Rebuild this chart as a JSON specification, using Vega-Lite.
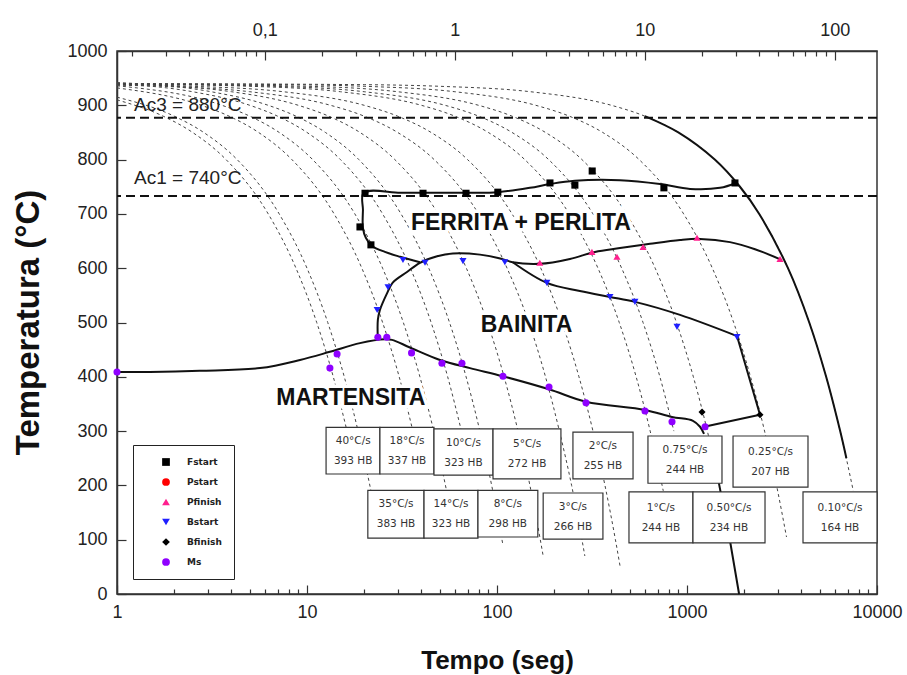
{
  "$schema": "https://vega.github.io/schema/vega-lite/v6.json",
  "width": 760,
  "height": 543,
  "autosize": "none",
  "padding": {"left": 117, "top": 51, "right": 30, "bottom": 81},
  "background": "white",
  "config": {
    "view": {"stroke": "#333", "strokeWidth": 1.5},
    "font": "Liberation Sans",
    "axis": {"grid": false, "domainColor": "#333", "domainWidth": 1.5, "tickColor": "#333", "tickWidth": 1.2, "labelColor": "#222", "labelFont": "Liberation Sans", "labelFontSize": 18, "titleColor": "#111", "titleFont": "Liberation Sans", "titleFontWeight": "bold"}
  },
  "datasets": {
    "cool": [
      {"r": "40", "t": 1, "T": 910}, {"r": "40", "t": 1.75, "T": 880}, {"r": "40", "t": 2.5, "T": 850}, {"r": "40", "t": 3.75, "T": 800}, {"r": "40", "t": 6.25, "T": 700}, {"r": "40", "t": 8.75, "T": 600}, {"r": "40", "t": 11.25, "T": 500}, {"r": "40", "t": 13.75, "T": 400}, {"r": "40", "t": 16.25, "T": 300},
      {"r": "35", "t": 1, "T": 915}, {"r": "35", "t": 2.0, "T": 880}, {"r": "35", "t": 2.86, "T": 850}, {"r": "35", "t": 4.29, "T": 800}, {"r": "35", "t": 7.14, "T": 700}, {"r": "35", "t": 10, "T": 600}, {"r": "35", "t": 12.86, "T": 500}, {"r": "35", "t": 15.71, "T": 400}, {"r": "35", "t": 18.57, "T": 300}, {"r": "35", "t": 21.86, "T": 185},
      {"r": "18", "t": 1, "T": 932}, {"r": "18", "t": 2.78, "T": 900}, {"r": "18", "t": 3.89, "T": 880}, {"r": "18", "t": 5.56, "T": 850}, {"r": "18", "t": 8.33, "T": 800}, {"r": "18", "t": 13.89, "T": 700}, {"r": "18", "t": 19.44, "T": 600}, {"r": "18", "t": 25, "T": 500}, {"r": "18", "t": 30.56, "T": 400}, {"r": "18", "t": 36.1, "T": 300},
      {"r": "14", "t": 1, "T": 936}, {"r": "14", "t": 3.57, "T": 900}, {"r": "14", "t": 5, "T": 880}, {"r": "14", "t": 7.14, "T": 850}, {"r": "14", "t": 10.71, "T": 800}, {"r": "14", "t": 17.86, "T": 700}, {"r": "14", "t": 25, "T": 600}, {"r": "14", "t": 32.14, "T": 500}, {"r": "14", "t": 39.29, "T": 400}, {"r": "14", "t": 46.43, "T": 300}, {"r": "14", "t": 54.29, "T": 190},
      {"r": "10", "t": 1, "T": 940}, {"r": "10", "t": 2.5, "T": 925}, {"r": "10", "t": 5, "T": 900}, {"r": "10", "t": 7, "T": 880}, {"r": "10", "t": 10, "T": 850}, {"r": "10", "t": 15, "T": 800}, {"r": "10", "t": 25, "T": 700}, {"r": "10", "t": 35, "T": 600}, {"r": "10", "t": 45, "T": 500}, {"r": "10", "t": 55, "T": 400}, {"r": "10", "t": 65, "T": 300},
      {"r": "8", "t": 1, "T": 942}, {"r": "8", "t": 3.13, "T": 925}, {"r": "8", "t": 6.25, "T": 900}, {"r": "8", "t": 8.75, "T": 880}, {"r": "8", "t": 12.5, "T": 850}, {"r": "8", "t": 18.75, "T": 800}, {"r": "8", "t": 31.25, "T": 700}, {"r": "8", "t": 43.75, "T": 600}, {"r": "8", "t": 56.25, "T": 500}, {"r": "8", "t": 68.75, "T": 400}, {"r": "8", "t": 81.25, "T": 300}, {"r": "8", "t": 93.75, "T": 200}, {"r": "8", "t": 107.5, "T": 90},
      {"r": "5", "t": 1, "T": 940}, {"r": "5", "t": 4, "T": 925}, {"r": "5", "t": 9, "T": 900}, {"r": "5", "t": 13, "T": 880}, {"r": "5", "t": 19, "T": 850}, {"r": "5", "t": 29, "T": 800}, {"r": "5", "t": 49, "T": 700}, {"r": "5", "t": 69, "T": 600}, {"r": "5", "t": 89, "T": 500}, {"r": "5", "t": 109, "T": 400}, {"r": "5", "t": 129, "T": 300}, {"r": "5", "t": 149, "T": 200}, {"r": "5", "t": 169, "T": 100}, {"r": "5", "t": 175, "T": 70},
      {"r": "3", "t": 1, "T": 937}, {"r": "3", "t": 1.67, "T": 935}, {"r": "3", "t": 5, "T": 925}, {"r": "3", "t": 13.3, "T": 900}, {"r": "3", "t": 20, "T": 880}, {"r": "3", "t": 30, "T": 850}, {"r": "3", "t": 46.7, "T": 800}, {"r": "3", "t": 80, "T": 700}, {"r": "3", "t": 113, "T": 600}, {"r": "3", "t": 147, "T": 500}, {"r": "3", "t": 180, "T": 400}, {"r": "3", "t": 213, "T": 300}, {"r": "3", "t": 247, "T": 200}, {"r": "3", "t": 280, "T": 100}, {"r": "3", "t": 290, "T": 70},
      {"r": "2", "t": 1, "T": 938}, {"r": "2", "t": 2.5, "T": 935}, {"r": "2", "t": 7.5, "T": 925}, {"r": "2", "t": 20, "T": 900}, {"r": "2", "t": 30, "T": 880}, {"r": "2", "t": 45, "T": 850}, {"r": "2", "t": 70, "T": 800}, {"r": "2", "t": 120, "T": 700}, {"r": "2", "t": 170, "T": 600}, {"r": "2", "t": 220, "T": 500}, {"r": "2", "t": 270, "T": 400}, {"r": "2", "t": 320, "T": 300}, {"r": "2", "t": 370, "T": 200}, {"r": "2", "t": 420, "T": 100}, {"r": "2", "t": 445, "T": 50},
      {"r": "1", "t": 1, "T": 939}, {"r": "1", "t": 5, "T": 935}, {"r": "1", "t": 15, "T": 925}, {"r": "1", "t": 40, "T": 900}, {"r": "1", "t": 60, "T": 880}, {"r": "1", "t": 90, "T": 850}, {"r": "1", "t": 140, "T": 800}, {"r": "1", "t": 240, "T": 700}, {"r": "1", "t": 340, "T": 600}, {"r": "1", "t": 440, "T": 500}, {"r": "1", "t": 540, "T": 400}, {"r": "1", "t": 640, "T": 300}, {"r": "1", "t": 750, "T": 190},
      {"r": "0.75", "t": 1, "T": 939.2}, {"r": "0.75", "t": 6.67, "T": 935}, {"r": "0.75", "t": 20, "T": 925}, {"r": "0.75", "t": 53.3, "T": 900}, {"r": "0.75", "t": 80, "T": 880}, {"r": "0.75", "t": 120, "T": 850}, {"r": "0.75", "t": 187, "T": 800}, {"r": "0.75", "t": 320, "T": 700}, {"r": "0.75", "t": 453, "T": 600}, {"r": "0.75", "t": 587, "T": 500}, {"r": "0.75", "t": 720, "T": 400}, {"r": "0.75", "t": 853, "T": 300},
      {"r": "0.5", "t": 1, "T": 939.5}, {"r": "0.5", "t": 10, "T": 935}, {"r": "0.5", "t": 30, "T": 925}, {"r": "0.5", "t": 80, "T": 900}, {"r": "0.5", "t": 120, "T": 880}, {"r": "0.5", "t": 180, "T": 850}, {"r": "0.5", "t": 280, "T": 800}, {"r": "0.5", "t": 480, "T": 700}, {"r": "0.5", "t": 680, "T": 600}, {"r": "0.5", "t": 880, "T": 500}, {"r": "0.5", "t": 1080, "T": 400}, {"r": "0.5", "t": 1280, "T": 300}, {"r": "0.5", "t": 1470, "T": 205},
      {"r": "0.25", "t": 1, "T": 939.7}, {"r": "0.25", "t": 8, "T": 938}, {"r": "0.25", "t": 20, "T": 935}, {"r": "0.25", "t": 60, "T": 925}, {"r": "0.25", "t": 160, "T": 900}, {"r": "0.25", "t": 240, "T": 880}, {"r": "0.25", "t": 360, "T": 850}, {"r": "0.25", "t": 560, "T": 800}, {"r": "0.25", "t": 960, "T": 700}, {"r": "0.25", "t": 1360, "T": 600}, {"r": "0.25", "t": 1760, "T": 500}, {"r": "0.25", "t": 2160, "T": 400}, {"r": "0.25", "t": 2560, "T": 300}, {"r": "0.25", "t": 2960, "T": 200}, {"r": "0.25", "t": 3340, "T": 105},
      {"r": "0.1", "t": 1, "T": 939.9}, {"r": "0.1", "t": 20, "T": 938}, {"r": "0.1", "t": 50, "T": 935}, {"r": "0.1", "t": 150, "T": 925}, {"r": "0.1", "t": 400, "T": 900}, {"r": "0.1", "t": 600, "T": 880}, {"r": "0.1", "t": 900, "T": 850}, {"r": "0.1", "t": 1400, "T": 800}, {"r": "0.1", "t": 1900, "T": 750}, {"r": "0.1", "t": 2400, "T": 700}, {"r": "0.1", "t": 3400, "T": 600}, {"r": "0.1", "t": 4400, "T": 500}, {"r": "0.1", "t": 5400, "T": 400}, {"r": "0.1", "t": 6400, "T": 300}, {"r": "0.1", "t": 7500, "T": 190}
    ],
    "solc": [
      {"id": "F", "i": 0, "t": 39.3, "T": 611}, {"id": "F", "i": 1, "t": 30.9, "T": 621}, {"id": "F", "i": 2, "t": 25.7, "T": 630}, {"id": "F", "i": 3, "t": 22.0, "T": 641}, {"id": "F", "i": 4, "t": 20.4, "T": 656}, {"id": "F", "i": 5, "t": 19.7, "T": 674}, {"id": "F", "i": 6, "t": 19.7, "T": 707}, {"id": "F", "i": 7, "t": 19.9, "T": 739}, {"id": "F", "i": 8, "t": 30.9, "T": 739}, {"id": "F", "i": 9, "t": 40.8, "T": 739}, {"id": "F", "i": 10, "t": 68.7, "T": 739}, {"id": "F", "i": 11, "t": 101, "T": 740}, {"id": "F", "i": 12, "t": 149, "T": 748}, {"id": "F", "i": 13, "t": 190, "T": 755}, {"id": "F", "i": 14, "t": 257, "T": 761}, {"id": "F", "i": 15, "t": 444, "T": 762}, {"id": "F", "i": 16, "t": 721, "T": 755}, {"id": "F", "i": 17, "t": 1037, "T": 746}, {"id": "F", "i": 18, "t": 1492, "T": 748}, {"id": "F", "i": 19, "t": 1811, "T": 757},
      {"id": "N", "i": 0, "t": 23.6, "T": 468}, {"id": "N", "i": 1, "t": 23.6, "T": 505}, {"id": "N", "i": 2, "t": 24.2, "T": 523}, {"id": "N", "i": 3, "t": 26.4, "T": 554}, {"id": "N", "i": 4, "t": 28.2, "T": 573}, {"id": "N", "i": 5, "t": 33.6, "T": 593}, {"id": "N", "i": 6, "t": 39.3, "T": 610}, {"id": "N", "i": 7, "t": 48.4, "T": 622}, {"id": "N", "i": 8, "t": 58.6, "T": 627}, {"id": "N", "i": 9, "t": 81.4, "T": 625}, {"id": "N", "i": 10, "t": 104, "T": 618}, {"id": "N", "i": 11, "t": 121, "T": 611}, {"id": "N", "i": 12, "t": 168, "T": 608}, {"id": "N", "i": 13, "t": 242, "T": 617}, {"id": "N", "i": 14, "t": 328, "T": 630}, {"id": "N", "i": 15, "t": 444, "T": 637}, {"id": "N", "i": 16, "t": 639, "T": 645}, {"id": "N", "i": 17, "t": 919, "T": 652}, {"id": "N", "i": 18, "t": 1171, "T": 654}, {"id": "N", "i": 19, "t": 1684, "T": 648}, {"id": "N", "i": 20, "t": 2280, "T": 635}, {"id": "N", "i": 21, "t": 3162, "T": 615},
      {"id": "B", "i": 0, "t": 121, "T": 611}, {"id": "B", "i": 1, "t": 183, "T": 573}, {"id": "B", "i": 2, "t": 273, "T": 558}, {"id": "B", "i": 3, "t": 393, "T": 547}, {"id": "B", "i": 4, "t": 532, "T": 538}, {"id": "B", "i": 5, "t": 919, "T": 514}, {"id": "B", "i": 6, "t": 1833, "T": 475},
      {"id": "M", "i": 0, "t": 1, "T": 409}, {"id": "M", "i": 1, "t": 1.49, "T": 409}, {"id": "M", "i": 2, "t": 2.73, "T": 411}, {"id": "M", "i": 3, "t": 5.66, "T": 416}, {"id": "M", "i": 4, "t": 9.19, "T": 431}, {"id": "M", "i": 5, "t": 13.2, "T": 446}, {"id": "M", "i": 6, "t": 19.0, "T": 462}, {"id": "M", "i": 7, "t": 25.7, "T": 469}, {"id": "M", "i": 8, "t": 28.0, "T": 468}, {"id": "M", "i": 9, "t": 34.8, "T": 454}, {"id": "M", "i": 10, "t": 50.1, "T": 431}, {"id": "M", "i": 11, "t": 72.1, "T": 416}, {"id": "M", "i": 12, "t": 107.5, "T": 401}, {"id": "M", "i": 13, "t": 187.8, "T": 377}, {"id": "M", "i": 14, "t": 294, "T": 354}, {"id": "M", "i": 15, "t": 601, "T": 339}, {"id": "M", "i": 16, "t": 834, "T": 326}, {"id": "M", "i": 17, "t": 1075, "T": 319}, {"id": "M", "i": 18, "t": 1171, "T": 308}, {"id": "M", "i": 19, "t": 1229, "T": 295},
      {"id": "Q", "i": 0, "t": 600, "T": 880}, {"id": "Q", "i": 1, "t": 900, "T": 850}, {"id": "Q", "i": 2, "t": 1400, "T": 800}, {"id": "Q", "i": 3, "t": 1900, "T": 750}, {"id": "Q", "i": 4, "t": 2400, "T": 700}, {"id": "Q", "i": 5, "t": 3400, "T": 600}, {"id": "Q", "i": 6, "t": 4400, "T": 500}, {"id": "Q", "i": 7, "t": 5400, "T": 400}, {"id": "Q", "i": 8, "t": 6400, "T": 300}, {"id": "Q", "i": 9, "t": 6900, "T": 250}
    ],
    "soll": [
      {"id": "B2", "i": 0, "t": 1833, "T": 475}, {"id": "B2", "i": 1, "t": 2422, "T": 330}, {"id": "B2", "i": 2, "t": 1214, "T": 307.5},
      {"id": "H", "i": 0, "t": 1470, "T": 205}, {"id": "H", "i": 1, "t": 1680, "T": 100}, {"id": "H", "i": 2, "t": 1880, "T": 0}
    ],
    "pts": [
      {"s": "Fstart", "t": 20.2, "T": 738}, {"s": "Fstart", "t": 19.0, "T": 676}, {"s": "Fstart", "t": 21.7, "T": 643}, {"s": "Fstart", "t": 40.8, "T": 738}, {"s": "Fstart", "t": 68.7, "T": 738}, {"s": "Fstart", "t": 101, "T": 740}, {"s": "Fstart", "t": 190, "T": 757}, {"s": "Fstart", "t": 257, "T": 753}, {"s": "Fstart", "t": 317, "T": 779}, {"s": "Fstart", "t": 756, "T": 748}, {"s": "Fstart", "t": 1788, "T": 757},
      {"s": "Pfinish", "t": 168, "T": 610}, {"s": "Pfinish", "t": 316, "T": 630}, {"s": "Pfinish", "t": 428, "T": 621}, {"s": "Pfinish", "t": 587, "T": 639}, {"s": "Pfinish", "t": 1129, "T": 656}, {"s": "Pfinish", "t": 3087, "T": 617},
      {"s": "Bstart", "t": 23.4, "T": 523}, {"s": "Bstart", "t": 26.7, "T": 565}, {"s": "Bstart", "t": 32.0, "T": 615}, {"s": "Bstart", "t": 41.8, "T": 610}, {"s": "Bstart", "t": 66.2, "T": 613}, {"s": "Bstart", "t": 110, "T": 611}, {"s": "Bstart", "t": 183, "T": 573}, {"s": "Bstart", "t": 393, "T": 547}, {"s": "Bstart", "t": 532, "T": 538}, {"s": "Bstart", "t": 886, "T": 492}, {"s": "Bstart", "t": 1833, "T": 473},
      {"s": "Bfinish", "t": 1200, "T": 335}, {"s": "Bfinish", "t": 2422, "T": 330},
      {"s": "Ms", "t": 1, "T": 409}, {"s": "Ms", "t": 13.2, "T": 416}, {"s": "Ms", "t": 14.4, "T": 442}, {"s": "Ms", "t": 23.6, "T": 473}, {"s": "Ms", "t": 26.3, "T": 473}, {"s": "Ms", "t": 35.5, "T": 444}, {"s": "Ms", "t": 51.3, "T": 425}, {"s": "Ms", "t": 65.4, "T": 425}, {"s": "Ms", "t": 107.5, "T": 401}, {"s": "Ms", "t": 187.8, "T": 381}, {"s": "Ms", "t": 294, "T": 352}, {"s": "Ms", "t": 601, "T": 337}, {"s": "Ms", "t": 834, "T": 317}, {"s": "Ms", "t": 1245, "T": 308}
    ],
    "boxes": [
      {"lab": "40°C/s\n393 HB", "t1": 12.6, "t2": 24.2, "T1": 307, "T2": 221, "tc": 17.5, "Tc": 282},
      {"lab": "18°C/s\n337 HB", "t1": 24.2, "t2": 46.6, "T1": 307, "T2": 221, "tc": 33.6, "Tc": 282},
      {"lab": "10°C/s\n323 HB", "t1": 46.6, "t2": 95.3, "T1": 304, "T2": 219, "tc": 66.6, "Tc": 279},
      {"lab": "5°C/s\n272 HB", "t1": 95.3, "t2": 217, "T1": 304, "T2": 212, "tc": 144, "Tc": 276},
      {"lab": "2°C/s\n255 HB", "t1": 251, "t2": 520, "T1": 298, "T2": 212, "tc": 361, "Tc": 273},
      {"lab": "0.75°C/s\n244 HB", "t1": 623, "t2": 1528, "T1": 291, "T2": 204, "tc": 976, "Tc": 265},
      {"lab": "0.25°C/s\n207 HB", "t1": 1747, "t2": 4333, "T1": 291, "T2": 197, "tc": 2751, "Tc": 262},
      {"lab": "35°C/s\n383 HB", "t1": 20.9, "t2": 41.3, "T1": 191, "T2": 103, "tc": 29.4, "Tc": 165},
      {"lab": "14°C/s\n323 HB", "t1": 41.3, "t2": 79.4, "T1": 191, "T2": 103, "tc": 57.3, "Tc": 165},
      {"lab": "8°C/s\n298 HB", "t1": 79.4, "t2": 164, "T1": 191, "T2": 105, "tc": 114, "Tc": 166},
      {"lab": "3°C/s\n266 HB", "t1": 175, "t2": 361, "T1": 186, "T2": 101, "tc": 251, "Tc": 161},
      {"lab": "1°C/s\n244 HB", "t1": 495, "t2": 1075, "T1": 188, "T2": 94, "tc": 729, "Tc": 159},
      {"lab": "0.50°C/s\n234 HB", "t1": 1075, "t2": 2574, "T1": 188, "T2": 94, "tc": 1663, "Tc": 159},
      {"lab": "0.10°C/s\n164 HB", "t1": 4079, "t2": 10000, "T1": 188, "T2": 94, "tc": 6387, "Tc": 159}
    ],
    "regions": [
      {"txt": "FERRITA + PERLITA", "t": 133.7, "T": 683},
      {"txt": "BAINITA", "t": 143, "T": 495},
      {"txt": "MARTENSITA", "t": 17.0, "T": 361}
    ],
    "ac": [
      {"txt": "Ac3 = 880°C", "t": 1.23, "T": 900},
      {"txt": "Ac1 = 740°C", "t": 1.23, "T": 766}
    ],
    "acl": [{"T": 877}, {"T": 733}]
  },
  "layer": [
    {
      "layer": [
        {
          "data": {"name": "cool"},
          "mark": {"type": "line", "strokeDash": [3, 3], "strokeWidth": 1, "color": "#444", "interpolate": "monotone"},
          "encoding": {
            "x": {"field": "t", "type": "quantitative", "scale": {"type": "log", "domain": [1, 10000]},
              "axis": {"orient": "bottom", "title": "Tempo (seg)", "values": [1,2,3,4,5,6,7,8,9,10,20,30,40,50,60,70,80,90,100,200,300,400,500,600,700,800,900,1000,2000,3000,4000,5000,6000,7000,8000,9000,10000],
                "format": "d", "labelExpr": "indexof([1,10,100,1000,10000], datum.value) >= 0 ? datum.label : ''",
                "tickSize": {"condition": {"test": "indexof([1,10,100,1000,10000], datum.value) >= 0", "value": -9}, "value": -5},
                "labelPadding": 18, "labelFlush": false, "titleFontSize": 26, "titleX": 380, "titleY": 66, "titleBaseline": "middle", "titleAlign": "center"}},
            "y": {"field": "T", "type": "quantitative", "scale": {"domain": [0, 1000], "nice": false},
              "axis": {"title": "Temperatura (°C)", "values": [0,50,100,150,200,250,300,350,400,450,500,550,600,650,700,750,800,850,900,950,1000],
                "format": "d", "labelExpr": "datum.value % 100 == 0 ? datum.label : ''",
                "tickSize": {"condition": {"test": "datum.value % 100 == 0", "value": -9}, "value": -5},
                "labelPadding": 19, "labelFlush": false, "titleFontSize": 33, "titleX": -89, "titleY": 271, "titleBaseline": "middle", "titleAlign": "center", "titleAngle": -90}},
            "detail": {"field": "r"}
          }
        },
        {
          "data": {"name": "acl"},
          "mark": {"type": "rule", "strokeDash": [9, 5], "strokeWidth": 2, "color": "#111"},
          "encoding": {"y": {"field": "T", "type": "quantitative"}}
        },
        {
          "data": {"name": "solc"},
          "mark": {"type": "line", "color": "#111", "strokeWidth": 2, "interpolate": "catmull-rom"},
          "encoding": {
            "x": {"field": "t", "type": "quantitative"},
            "y": {"field": "T", "type": "quantitative"},
            "detail": {"field": "id"},
            "order": {"field": "i", "type": "quantitative"}
          }
        },
        {
          "data": {"name": "soll"},
          "mark": {"type": "line", "color": "#111", "strokeWidth": 2},
          "encoding": {
            "x": {"field": "t", "type": "quantitative"},
            "y": {"field": "T", "type": "quantitative"},
            "detail": {"field": "id"},
            "order": {"field": "i", "type": "quantitative"}
          }
        },
        {
          "data": {"name": "pts"},
          "mark": {"type": "point", "filled": true, "size": 50, "opacity": 1},
          "encoding": {
            "x": {"field": "t", "type": "quantitative"},
            "y": {"field": "T", "type": "quantitative"},
            "color": {"field": "s", "type": "nominal",
              "scale": {"domain": ["Fstart", "Pstart", "Pfinish", "Bstart", "Bfinish", "Ms"], "range": ["#000000", "#ff0000", "#ff1f8e", "#1f1fff", "#000000", "#8f00ff"]},
              "legend": {"orient": "none", "legendX": 16, "legendY": 394, "title": null, "strokeColor": "#222", "fillColor": "white", "padding": 12, "symbolOffset": 16, "labelOffset": 16, "labelFontSize": 9, "labelFont": "DejaVu Sans", "labelFontWeight": "bold", "labelColor": "#222", "rowPadding": 10, "symbolSize": 60}},
            "shape": {"field": "s", "type": "nominal",
              "scale": {"domain": ["Fstart", "Pstart", "Pfinish", "Bstart", "Bfinish", "Ms"], "range": ["square", "circle", "triangle-up", "triangle-down", "diamond", "circle"]},
              "legend": {"orient": "none", "legendX": 16, "legendY": 394, "title": null, "strokeColor": "#222", "fillColor": "white", "padding": 12, "symbolOffset": 16, "labelOffset": 16, "labelFontSize": 9, "labelFont": "DejaVu Sans", "labelFontWeight": "bold", "labelColor": "#222", "rowPadding": 10, "symbolSize": 60}}
          }
        },
        {
          "data": {"name": "boxes"},
          "mark": {"type": "rect", "fill": "white", "stroke": "#333", "strokeWidth": 1.2},
          "encoding": {
            "x": {"field": "t1", "type": "quantitative"},
            "x2": {"field": "t2"},
            "y": {"field": "T1", "type": "quantitative"},
            "y2": {"field": "T2"}
          }
        },
        {
          "data": {"name": "boxes"},
          "mark": {"type": "text", "lineBreak": "\n", "fontSize": 10.5, "lineHeight": 20, "font": "DejaVu Sans", "color": "#333", "align": "center", "baseline": "middle"},
          "encoding": {
            "x": {"field": "tc", "type": "quantitative"},
            "y": {"field": "Tc", "type": "quantitative"},
            "text": {"field": "lab"}
          }
        },
        {
          "data": {"name": "regions"},
          "mark": {"type": "text", "fontSize": 23, "fontWeight": "bold", "font": "Liberation Sans", "stroke": "white", "strokeWidth": 7, "color": "white", "align": "center", "baseline": "middle"},
          "encoding": {
            "x": {"field": "t", "type": "quantitative"},
            "y": {"field": "T", "type": "quantitative"},
            "text": {"field": "txt"}
          }
        },
        {
          "data": {"name": "regions"},
          "mark": {"type": "text", "fontSize": 23, "fontWeight": "bold", "font": "Liberation Sans", "color": "#111", "align": "center", "baseline": "middle"},
          "encoding": {
            "x": {"field": "t", "type": "quantitative"},
            "y": {"field": "T", "type": "quantitative"},
            "text": {"field": "txt"}
          }
        },
        {
          "data": {"name": "ac"},
          "mark": {"type": "text", "fontSize": 19, "font": "Liberation Sans", "color": "#222", "align": "left", "baseline": "middle"},
          "encoding": {
            "x": {"field": "t", "type": "quantitative"},
            "y": {"field": "T", "type": "quantitative"},
            "text": {"field": "txt"}
          }
        }
      ]
    },
    {
      "data": {"values": [{"m": 1}]},
      "mark": {"type": "point", "opacity": 0},
      "encoding": {
        "x": {"field": "m", "type": "quantitative", "scale": {"type": "log", "domain": [0.0166667, 166.667]},
          "axis": {"orient": "top", "title": null, "values": [0.02,0.03,0.04,0.05,0.06,0.07,0.08,0.09,0.1,0.2,0.3,0.4,0.5,0.6,0.7,0.8,0.9,1,2,3,4,5,6,7,8,9,10,20,30,40,50,60,70,80,90,100],
            "format": "~g", "labelExpr": "datum.value == 0.1 ? '0,1' : (datum.value == 1 || datum.value == 10 || datum.value == 100) ? datum.label : ''",
            "tickSize": {"condition": {"test": "datum.value == 0.1 || datum.value == 1 || datum.value == 10 || datum.value == 100", "value": -9}, "value": -5},
            "labelPadding": 21, "labelFlush": false}}
      }
    }
  ],
  "resolve": {"scale": {"x": "independent"}}
}
